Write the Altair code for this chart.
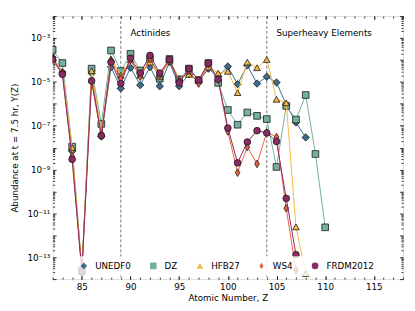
import altair as alt
import pandas as pd

# ---------------- data ----------------
series_names = ["UNEDF0", "DZ", "HFB27", "WS4", "FRDM2012"]
series_colors = ["#3b6d8c", "#74b0a0", "#f6b942", "#e8643f", "#8c2b63"]
series_shapes = ["diamond", "square", "triangle-up", "M0,-1L0.6,0L0,1L-0.6,0Z", "circle"]
series_sizes = [55, 45, 45, 60, 45]

z_start = 82
unedf0 = [1.3e-4, 2.8e-5, 6.8e-9, 2.5e-14, 2.5e-5, 3.2e-8, 4.7e-5, 5.0e-6, 4.4e-5, 7.1e-6,
          4.7e-5, 6.3e-6, 7.9e-5, 6.3e-6, 2.2e-5, 1.0e-5, 4.0e-5, 1.7e-5, 5.0e-5, 7.8e-6,
          5.6e-5, 8.3e-6, 1.7e-5, 9.3e-6, 8.9e-7, 1.4e-7, 2.9e-8]
dz = [2.9e-4, 7.2e-5, 1.1e-8, 2.5e-14, 4.0e-5, 1.2e-7, 2.7e-4, 3.1e-5, 1.9e-4, 3.3e-5,
      1.1e-4, 1.4e-5, 1.1e-4, 1.3e-5, 4.0e-5, 1.2e-5, 7.2e-5, 8.9e-6, 5.2e-7, 1.1e-7,
      4.0e-7, 2.8e-7, 2.0e-7, 1.3e-9, 7.9e-7, 1.9e-7, 2.5e-6, 5.1e-9, 2.3e-12]
hfb27 = [1.3e-4, 2.8e-5, 1.0e-8, 2.5e-14, 3.2e-5, 5.0e-8, 1.1e-4, 2.0e-5, 1.0e-4, 2.0e-5,
         7.9e-5, 1.7e-5, 8.9e-5, 1.4e-5, 2.2e-5, 1.2e-5, 4.7e-5, 2.5e-5, 3.0e-5, 3.2e-6,
         7.9e-5, 4.4e-5, 1.05e-4, 1.6e-6, 1.1e-6, 2.4e-12, 1.8e-14]
ws4 = [1.1e-4, 2.5e-5, 4.0e-9, 2.5e-14, 1.1e-5, 3.5e-8, 8.9e-5, 1.4e-5, 1.0e-4, 1.7e-5,
       1.1e-4, 2.0e-5, 1.0e-4, 1.05e-5, 3.2e-5, 8.3e-6, 6.3e-5, 1.3e-5, 5.5e-8, 7.2e-10,
       1.05e-8, 1.8e-9, 5.0e-8, 3.0e-8, 1.7e-11, 2.5e-14]
frdm2012 = [1.0e-4, 2.2e-5, 2.9e-9, 2.0e-14, 1.1e-5, 3.5e-8, 7.9e-5, 8.3e-6, 1.2e-4, 2.5e-5,
            1.6e-4, 2.5e-5, 1.05e-4, 8.9e-6, 4.0e-5, 1.2e-5, 7.2e-5, 1.3e-5, 7.8e-8, 2.0e-9,
            1.8e-8, 5.9e-8, 4.6e-8, 1.9e-8, 4.8e-11, 1.3e-13]

region_lines = [89, 104]
region_labels = ["Actinides", "Superheavy Elements"]
region_label_x = [90, 105]
region_label_y = [1.7e-3, 1.7e-3]

x_major = [85, 90, 95, 100, 105, 110, 115]
x_minor = list(range(82, 119))
y_tick_values = [1e-13, 1e-11, 1e-9, 1e-7, 1e-5, 1e-3]
y_tick_labels = ["10⁻¹³", "10⁻¹¹", "10⁻⁹", "10⁻⁷", "10⁻⁵", "10⁻³"]
y_decades = [10.0 ** e for e in range(-14, -1)]
y_minor = [m * 10.0 ** e for e in range(-14, -2) for m in range(2, 10)]

rows = []
for name, vals in zip(series_names, [unedf0, dz, hfb27, ws4, frdm2012]):
    for i, v in enumerate(vals):
        rows.append({"model": name, "Z": z_start + i, "Y": v})
df = pd.DataFrame(rows)

rules_df = pd.DataFrame({"Z": region_lines})
ann_df = pd.DataFrame({"Z": region_label_x, "Y": region_label_y, "label": region_labels})

# ---------------- scales ----------------
xs = alt.Scale(domain=[82, 118], nice=False, zero=False)
ys = alt.Scale(type="log", domain=[1e-14, 1e-2], nice=False)
color_scale = alt.Scale(domain=series_names, range=series_colors)
shape_scale = alt.Scale(domain=series_names, range=series_shapes)

FONT = "DejaVu Sans"
FS = 8.8

legend = alt.Legend(
    title="", orient="none", direction="horizontal", columns=5,
    legendX=22, legendY=242, padding=5,
    fillColor="rgba(255,255,255,0.8)",
    labelFontSize=FS, labelFont=FONT, labelColor="black",
    symbolSize=45, symbolStrokeColor="#1a1a1a", symbolStrokeWidth=0.8,
    symbolOpacity=1, columnPadding=17, labelOffset=7,
)

layers = []
for name, col, size in zip(series_names, series_colors, series_sizes):
    sub = alt.Chart(df).transform_filter(alt.datum.model == name)
    line = sub.mark_line(strokeWidth=1, clip=True, color=col).encode(
        x=alt.X("Z:Q", scale=xs, axis=None),
        y=alt.Y("Y:Q", scale=ys, axis=None),
    )
    layers.append(line)
    pts = sub.mark_point(filled=True, opacity=1, stroke="#1a1a1a", strokeWidth=0.8,
                         size=size, clip=True).encode(
        x=alt.X("Z:Q", scale=xs, axis=None),
        y=alt.Y("Y:Q", scale=ys, axis=None),
        color=alt.Color("model:N", scale=color_scale, legend=legend),
        shape=alt.Shape("model:N", scale=shape_scale, legend=legend),
    )
    layers.append(pts)

rules = alt.Chart(rules_df).mark_rule(color="#555555", strokeWidth=0.8, strokeDash=[3, 2]).encode(
    x=alt.X("Z:Q", scale=xs, axis=None)
)
texts = alt.Chart(ann_df).mark_text(align="left", baseline="middle", fontSize=FS, font=FONT,
                                    color="black").encode(
    x=alt.X("Z:Q", scale=xs, axis=None),
    y=alt.Y("Y:Q", scale=ys, axis=None),
    text="label:N",
)

# ---------------- axes (inward ticks via negative offsets) ----------------
def axis_layer(xaxis, yaxis):
    return alt.Chart(df).mark_point(opacity=0).encode(
        x=alt.X("Z:Q", scale=xs, axis=xaxis),
        y=alt.Y("Y:Q", scale=ys, axis=yaxis),
    )

label_expr = "[" + ",".join("'" + s + "'" for s in y_tick_labels) + "][round((log(datum.value)/LN10+13)/2)]"

common = dict(grid=False, domain=False, title="")
main = axis_layer(
    alt.Axis(orient="bottom", values=x_major, ticks=False, domain=False, grid=False,
             labelPadding=3, labelFontSize=FS, labelFont=FONT, labelColor="black", format="d",
             title="Atomic Number, Z", titleFontSize=FS, titleFont=FONT, titleFontWeight="normal",
             titleColor="black", titleY=19, titleBaseline="middle"),
    alt.Axis(orient="left", values=y_tick_values, ticks=False, domain=False, grid=False,
             labelPadding=3, labelFontSize=FS, labelFont=FONT, labelColor="black",
             labelExpr=label_expr,
             title="Abundance at t = 7.5 hr, Y(Z)", titleFontSize=FS, titleFont=FONT,
             titleFontWeight="normal", titleColor="black", titleX=-38, titleY=132.5,
             titleBaseline="middle", titleAngle=270),
)
tick_kw = dict(labels=False, tickColor="black", tickWidth=0.8, **common)
ax_b_major = axis_layer(
    alt.Axis(orient="bottom", values=x_major, tickSize=3.5, offset=-3.5, **tick_kw),
    alt.Axis(orient="left", values=y_decades, tickSize=3.5, offset=-3.5, **tick_kw),
)
ax_b_minor = axis_layer(
    alt.Axis(orient="bottom", values=x_minor, tickSize=2, offset=-2, **tick_kw),
    alt.Axis(orient="left", values=y_minor, tickSize=2, offset=-2, **tick_kw),
)
ax_t_major = axis_layer(
    alt.Axis(orient="top", values=x_major, tickSize=3.5, offset=-3.5, **tick_kw),
    alt.Axis(orient="right", values=y_decades, tickSize=3.5, offset=-3.5, **tick_kw),
)
ax_t_minor = axis_layer(
    alt.Axis(orient="top", values=x_minor, tickSize=2, offset=-2, **tick_kw),
    alt.Axis(orient="right", values=y_minor, tickSize=2, offset=-2, **tick_kw),
)

chart = alt.layer(
    rules, texts, *layers, main, ax_b_major, ax_b_minor, ax_t_major, ax_t_minor
).resolve_axis(x="independent", y="independent").properties(
    width=353, height=265,
    autosize=alt.AutoSizeParams(type="none"),
    padding={"left": 45, "top": 7, "right": 4, "bottom": 26},
).configure_view(stroke="#222222", strokeWidth=0.9).configure(font=FONT)

chart.save("out.html", embed_options={"renderer": "svg", "actions": False})
